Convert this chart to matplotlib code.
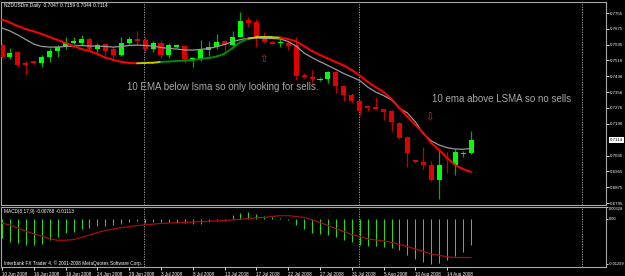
import matplotlib
matplotlib.use("Agg")
import matplotlib.pyplot as plt
import numpy as np

# ---------------- data ----------------
opens = [0.7592, 0.7533, 0.7558, 0.7501, 0.7511, 0.7504, 0.7531, 0.7562, 0.7582, 0.7602,
         0.7602, 0.7625, 0.7572, 0.7598, 0.7572, 0.7541, 0.7602, 0.7625, 0.7619, 0.7575,
         0.7602, 0.7541, 0.7582, 0.7589, 0.7525, 0.7521, 0.7568, 0.7582, 0.7612, 0.7592,
         0.7635, 0.7720, 0.7710, 0.7632, 0.7609, 0.7602, 0.7605, 0.7592, 0.7441, 0.7434,
         0.7419, 0.7420, 0.7457, 0.7386, 0.7339, 0.7312, 0.7285, 0.7279, 0.7272, 0.7262,
         0.7199, 0.7130, 0.7013, 0.7003, 0.6989, 0.6912, 0.6989, 0.6986, 0.7043, 0.7047]
highs = [0.7597, 0.7578, 0.7560, 0.7513, 0.7515, 0.7544, 0.7578, 0.7592, 0.7632, 0.7636,
         0.7642, 0.7632, 0.7605, 0.7605, 0.7586, 0.7635, 0.7635, 0.7666, 0.7632, 0.7615,
         0.7617, 0.7605, 0.7597, 0.7592, 0.7534, 0.7619, 0.7612, 0.7649, 0.7619, 0.7663,
         0.7760, 0.7736, 0.7726, 0.7659, 0.7612, 0.7625, 0.7615, 0.7632, 0.7451, 0.7467,
         0.7431, 0.7461, 0.7464, 0.7386, 0.7349, 0.7316, 0.7288, 0.7329, 0.7272, 0.7265,
         0.7205, 0.7134, 0.7015, 0.7080, 0.7006, 0.7063, 0.7053, 0.7070, 0.7060, 0.7159]
lows = [0.7528, 0.7523, 0.7482, 0.7442, 0.7497, 0.7484, 0.7508, 0.7534, 0.7572, 0.7597,
        0.7595, 0.7566, 0.7551, 0.7541, 0.7530, 0.7538, 0.7595, 0.7595, 0.7552, 0.7557,
        0.7530, 0.7530, 0.7579, 0.7501, 0.7481, 0.7514, 0.7538, 0.7572, 0.7562, 0.7588,
        0.7632, 0.7683, 0.7585, 0.7602, 0.7597, 0.7582, 0.7568, 0.7417, 0.7425, 0.7400,
        0.7414, 0.7403, 0.7353, 0.7312, 0.7301, 0.7238, 0.7262, 0.7265, 0.7215, 0.7158,
        0.7120, 0.6979, 0.7000, 0.6969, 0.6905, 0.6817, 0.6946, 0.6939, 0.7030, 0.7044]
closes = [0.7531, 0.7553, 0.7494, 0.7491, 0.7501, 0.7534, 0.7565, 0.7582, 0.7605, 0.7612,
          0.7625, 0.7572, 0.7595, 0.7562, 0.7541, 0.7605, 0.7625, 0.7615, 0.7575, 0.7602,
          0.7541, 0.7595, 0.7592, 0.7521, 0.7530, 0.7568, 0.7585, 0.7609, 0.7592, 0.7632,
          0.7713, 0.7706, 0.7635, 0.7609, 0.7599, 0.7607, 0.7589, 0.7437, 0.7431, 0.7423,
          0.7423, 0.7457, 0.7386, 0.7339, 0.7309, 0.7262, 0.7275, 0.7269, 0.7255, 0.7205,
          0.7124, 0.7049, 0.7003, 0.6986, 0.6912, 0.6986, 0.6986, 0.7053, 0.7050, 0.7114]

lsma = [0.7722, 0.7707, 0.7689, 0.7674, 0.7662, 0.7649, 0.7634, 0.7619, 0.7604, 0.7588,
        0.7573, 0.7563, 0.7548, 0.7530, 0.7518, 0.7508, 0.7503, 0.7501, 0.7503, 0.7504,
        0.7508, 0.7510, 0.7513, 0.7515, 0.7518, 0.7523, 0.7528, 0.7535, 0.7550, 0.7578,
        0.7609, 0.7626, 0.7632, 0.7632, 0.7632, 0.7631, 0.7624, 0.7611, 0.7588, 0.7563,
        0.7543, 0.7525, 0.7508, 0.7490, 0.7467, 0.7439, 0.7407, 0.7381, 0.7356, 0.7321,
        0.7275, 0.7231, 0.7189, 0.7149, 0.7098, 0.7063, 0.7023, 0.6987, 0.6967, 0.6952]
# colour state of the LSMA line per bar: r = falling, y = flat, g = rising
lsma_state = ["r"] * 17 + ["y"] * 3 + ["g"] * 11 + ["y"] * 4 + ["r"] * 25

ema10 = [0.7679, 0.7664, 0.7644, 0.7621, 0.7598, 0.7586, 0.7583, 0.7583, 0.7586, 0.7588,
         0.7591, 0.7588, 0.7588, 0.7586, 0.7583, 0.7586, 0.7591, 0.7593, 0.7591, 0.7588,
         0.7581, 0.7576, 0.7573, 0.7568, 0.7568, 0.7571, 0.7576, 0.7585, 0.7596, 0.7610,
         0.7621, 0.7627, 0.7629, 0.7626, 0.7626, 0.7624, 0.7611, 0.7588, 0.7553, 0.7530,
         0.7509, 0.7490, 0.7470, 0.7449, 0.7432, 0.7414, 0.7381, 0.7356, 0.7338, 0.7316,
         0.7273, 0.7250, 0.7205, 0.7144, 0.7109, 0.7088, 0.7075, 0.7068, 0.7067, 0.7071]

macd_hist = [-0.0056, -0.0067, -0.0071, -0.0076, -0.0074, -0.0072, -0.0062, -0.0053, -0.0041, -0.0039,
             -0.0030, -0.0028, -0.0022, -0.0020, -0.0018, -0.0016, -0.0010, -0.0007, -0.0012, -0.0010,
             -0.0010, -0.0010, -0.0012, -0.0012, -0.0016, -0.0016, -0.0010, -0.0006, -0.0004, 0.0010,
             0.0016, 0.0019, 0.0012, 0.0007, 0.0005, 0.0002, -0.0004, -0.0018, -0.0030, -0.0040,
             -0.0044, -0.0046, -0.0053, -0.0060, -0.0067, -0.0074, -0.0078, -0.0078, -0.0081, -0.0084,
             -0.0090, -0.0104, -0.0114, -0.0123, -0.0130, -0.0128, -0.0118, -0.0106, -0.0095, -0.00768]
macd_signal = [-0.0013, -0.0019, -0.0027, -0.0036, -0.0044, -0.0050, -0.0058, -0.0062, -0.0062, -0.0060,
               -0.0054, -0.0047, -0.0040, -0.0034, -0.0030, -0.0026, -0.0023, -0.0020, -0.0018, -0.0016,
               -0.0014, -0.0013, -0.0012, -0.0011, -0.0010, -0.0009, -0.0008, -0.0006, -0.0006, -0.0004,
               -0.0002, 0.0000, 0.0002, 0.0003, 0.0006, 0.0008, 0.0008, 0.0006, 0.0003, -0.0004,
               -0.0011, -0.0020, -0.0029, -0.0037, -0.0046, -0.0051, -0.0058, -0.0061, -0.0064, -0.0068,
               -0.0074, -0.0080, -0.0087, -0.0094, -0.0101, -0.0105, -0.0109, -0.0111, -0.0111, -0.01113]

price_ticks = [0.7755, 0.7675, 0.7595, 0.7516, 0.7436, 0.7356, 0.7276, 0.7196,
               0.7035, 0.6955, 0.6875, 0.6795]
price_tick_labels = ["0.7755", "0.7675", "0.7595", "0.7516", "0.7436", "0.7356", "0.7276",
                     "0.7196", "0.7035", "0.6955", "0.6875", "0.6795"]
current_price = 0.7114

date_tick_bars = [0, 4, 8, 12, 16, 20, 24, 28, 32, 36, 40, 44, 48, 52, 56]
date_tick_labels = ["10 Jun 2008", "16 Jun 2008", "19 Jun 2008", "24 Jun 2008", "29 Jun 2008",
                    "3 Jul 2008", "8 Jul 2008", "13 Jul 2008", "17 Jul 2008", "22 Jul 2008",
                    "27 Jul 2008", "31 Jul 2008", "5 Aug 2008", "10 Aug 2008", "14 Aug 2008"]
period_separators = [17.86, 44.9, 72.96]

macd_ticks = [0.00328, 0.0, -0.01299]
macd_tick_labels = ["0.00328", "0.00", "-0.01299"]

title_text = "NZDUSDm,Daily  0.7047 0.7159 0.7044 0.7114"
macd_title = "MACD(8,17,9) -0.00768 -0.01113"
copyright_text = "Interbank FX Trader 4, \u00a9 2001-2008 MetaQuotes Software Corp."
note1 = "10 EMA below lsma so only looking for sells."
note2 = "10 ema above LSMA so no sells"

# ---------------- figure ----------------
W, H = 625, 276
plt.rcParams["font.family"] = ["Liberation Sans", "DejaVu Sans"]
fig = plt.figure(figsize=(W / 100, H / 100), dpi=100, facecolor="black")


def fx(px):
    return px / W


def fy(py):
    return 1 - py / H


LEFT, RIGHT = 1.5, 606
ax = fig.add_axes([fx(LEFT), fy(205), fx(RIGHT) - fx(LEFT), fy(2) - fy(205)])
ax2 = fig.add_axes([fx(LEFT), fy(267), fx(RIGHT) - fx(LEFT), fy(207) - fy(267)])

n = len(opens)
x = np.arange(n)
step = 7.95
xlim = ((LEFT - 2) / step, (RIGHT - 2) / step)

frame_col = "#a8a8a8"
for a in (ax, ax2):
    a.set_facecolor("black")
    a.set_xlim(*xlim)
    for s in a.spines.values():
        s.set_color(frame_col)
        s.set_linewidth(0.8)
    for sep in period_separators:
        a.axvline(sep, color="#b0b0b0", lw=0.6, ls=(0, (1.5, 1.5)), zorder=1)

ax.set_ylim(0.67854, 0.78106)
ax2.set_ylim(-0.013804, 0.002996)

# ---- candles ----
bull_body, bear_body = "#00ff00", "#e00000"
bull_wick, bear_wick = "#00b000", "#c00000"
min_h = 0.00045
for i in range(n):
    o, h, l, c = opens[i], highs[i], lows[i], closes[i]
    up = c >= o
    ax.vlines(x[i], l, h, color=bull_wick if up else bear_wick, lw=0.9, zorder=3)
    lo = min(o, c)
    hh = abs(c - o)
    if hh < min_h:
        lo = (o + c) / 2 - min_h / 2
        hh = min_h
    ax.bar(x[i], hh, bottom=lo, width=0.64, color=bull_body if up else bear_body,
           edgecolor="none", zorder=4)

# ---- moving averages ----
ax.plot(x, ema10, color="#9a9a9a", lw=0.9, zorder=5)
state_col = {"r": "#ff0000", "y": "#c8c800", "g": "#008c00"}
for i in range(n - 1):
    ax.plot(x[i:i + 2], lsma[i:i + 2], color=state_col[lsma_state[i]], lw=1.4,
            solid_capstyle="round", zorder=6)

# ---- price axis ----
ax.yaxis.tick_right()
ax.set_yticks(price_ticks)
ax.set_yticklabels(price_tick_labels)
ax.tick_params(axis="y", colors="white", labelsize=3.2, length=2.0, width=0.6, pad=1.0)
ax.set_xticks([])
ax.annotate("0.7114", xy=(1.0, current_price), xycoords=("axes fraction", "data"),
            xytext=(3.5, 0), textcoords="offset pixels", ha="left", va="center",
            fontsize=3.2, color="black",
            bbox=dict(boxstyle="square,pad=0.2", fc="white", ec="none"),
            annotation_clip=False)

# ---- annotations on the chart ----
ax.text((127 - 2) / step, 0.73662, note1, color="#a8a8a8", fontsize=7.0,
        ha="left", va="baseline", zorder=7)
ax.text((432 - 2) / step, 0.73081, note2, color="#a8a8a8", fontsize=7.0,
        ha="left", va="baseline", zorder=7)
ax.text((264 - 2) / step, 0.7523, "\u21e7", color="#c03030", fontsize=7.5,
        ha="center", va="center", family=["DejaVu Sans"], zorder=7)
ax.text((430 - 2) / step, 0.7227, "\u21e9", color="#c03030", fontsize=7.5,
        ha="center", va="center", family=["DejaVu Sans"], zorder=7)

# ---- MACD ----
ax2.vlines(x, 0, macd_hist, colors="#20e620", lw=0.7, zorder=3)
ax2.plot(x, macd_signal, color="#a01010", lw=0.9, zorder=4)
ax2.yaxis.tick_right()
ax2.set_yticks(macd_ticks)
ax2.set_yticklabels(macd_tick_labels)
ax2.tick_params(axis="y", colors="white", labelsize=2.9, length=1.5, width=0.6, pad=0.6)
ylabs = ax2.get_yticklabels()
ylabs[0].set_va("top")
ylabs[2].set_va("center")

ax2.set_xticks(date_tick_bars)
ax2.set_xticklabels(date_tick_labels, ha="left")
ax2.tick_params(axis="x", colors="white", labelsize=3.3, length=2.5, width=0.6, pad=1.0)

# ---- header texts ----
fig.text(fx(4), fy(5.5), title_text, color="white", fontsize=3.5, ha="left", va="center")
fig.text(fx(4), fy(211), macd_title, color="white", fontsize=3.4, ha="left", va="center")
fig.text(fx(4), fy(263.5), copyright_text, color="white", fontsize=3.4, ha="left", va="center")

fig.savefig("out.png", dpi=100, facecolor="black")
